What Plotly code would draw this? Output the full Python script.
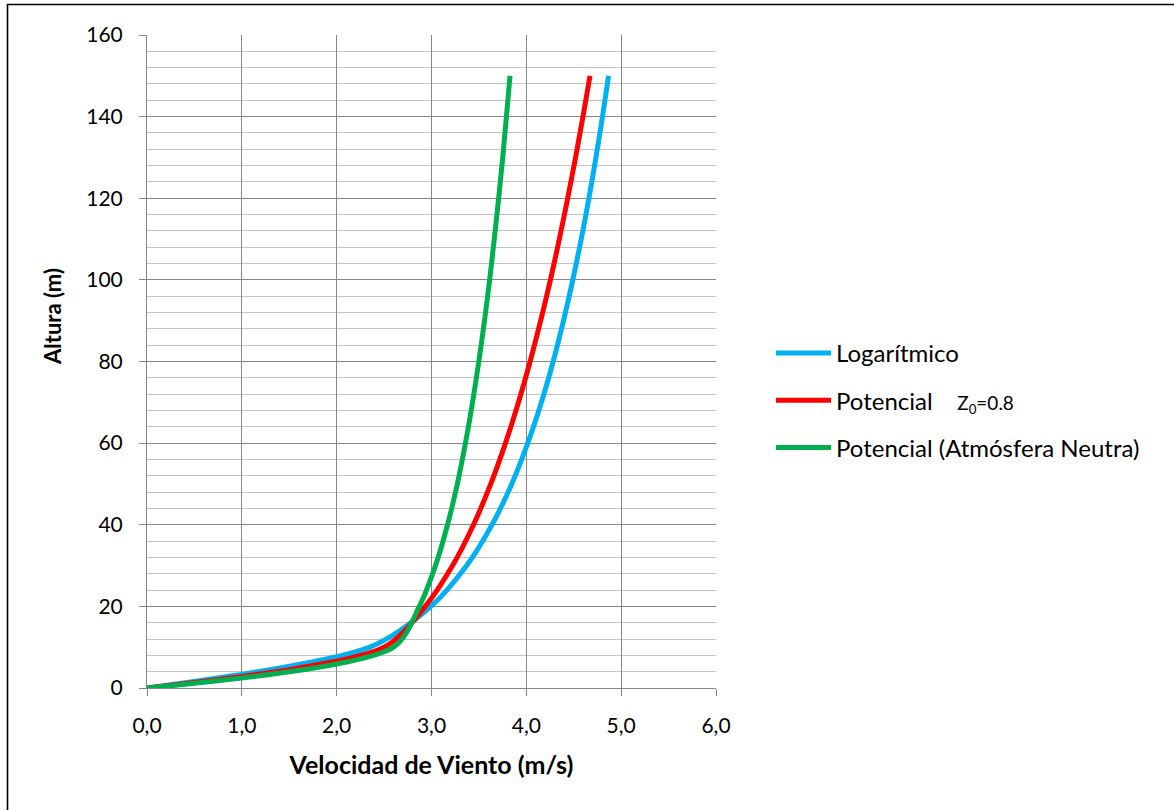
import plotly.graph_objects as go

# Heights (m) at which the wind speed profiles are evaluated
altura = [0, 10, 20, 30, 40, 50, 60, 70, 80, 90, 100, 110, 120, 130, 140, 150]

# Wind speed (m/s) for each profile
v_logaritmico = [0.000, 2.349, 2.994, 3.371, 3.638, 3.846, 4.015, 4.159, 4.283,
                 4.392, 4.490, 4.579, 4.660, 4.734, 4.803, 4.867]
v_potencial = [0.000, 2.500, 2.934, 3.222, 3.443, 3.625, 3.780, 3.917, 4.040,
               4.151, 4.254, 4.348, 4.436, 4.519, 4.597, 4.671]
v_neutra = [0.000, 2.600, 2.871, 3.042, 3.169, 3.272, 3.358, 3.433, 3.499,
            3.559, 3.613, 3.662, 3.708, 3.751, 3.790, 3.828]

nombres = [
    "Logarítmico",
    "Potencial\u00a0\u00a0\u00a0\u00a0<span style='font-size:19px'>Z<sub>0</sub>=0.8</span>",
    "Potencial (Atmósfera Neutra)",
]
colores = ["#00B0F0", "#FF0000", "#00B050"]
series = [v_logaritmico, v_potencial, v_neutra]

FONT = "Lato, 'Open Sans', sans-serif"

fig = go.Figure()
for i, (nombre, color, v) in enumerate(zip(nombres, colores, series)):
    fig.add_trace(go.Scatter(
        x=v, y=altura, name=nombre, mode="lines",
        line=dict(color=color, width=5, shape="spline", smoothing=0.8),
        legendgroup=f"g{i}",
    ))

# Plot-area geometry in pixels
W, H = 1174, 810
L, R, T, B = 147, 716, 35, 688
pw, ph = R - L, B - T

def px_x(p):
    return (p - L) / pw

def px_y(p):
    return (B - p) / ph

fig.update_layout(
    width=W, height=H,
    margin=dict(l=L, r=W - R, t=T, b=H - B, pad=0),
    paper_bgcolor="white", plot_bgcolor="white",
    separators=",.",
    font=dict(family=FONT, size=21, color="black"),
    showlegend=True,
    legend=dict(
        x=px_x(771), y=px_y(331), xanchor="left", yanchor="top",
        font=dict(family=FONT, size=24, color="black"),
        itemwidth=55, tracegroupgap=13,
        bgcolor="rgba(0,0,0,0)",
    ),
    xaxis=dict(
        range=[0, 6], dtick=1, tick0=0, tickformat=".1f",
        showgrid=True, gridcolor="#878787", gridwidth=1,
        showline=True, linecolor="#878787", linewidth=1,
        ticks="outside", ticklen=7, tickcolor="#878787",
        ticklabelstandoff=12,
        zeroline=False,
        title=dict(text="<b>Velocidad de Viento (m/s)</b>", standoff=20,
                   font=dict(family=FONT, size=25)),
    ),
    yaxis=dict(
        range=[0, 160], dtick=20, tick0=0,
        showgrid=True, gridcolor="#878787", gridwidth=1,
        showline=True, linecolor="#878787", linewidth=1,
        ticks="outside", ticklen=7, tickcolor="#878787",
        ticklabelstandoff=12,
        zeroline=False,
        minor=dict(dtick=4, showgrid=True, gridcolor="#c4c4c4", gridwidth=1),
    ),
    annotations=[
        dict(
            text="<b>Altura (m)</b>", textangle=-90,
            xref="paper", yref="paper", x=px_x(52), y=px_y(317),
            xanchor="center", yanchor="middle", showarrow=False,
            font=dict(family=FONT, size=22, color="black"),
        )
    ],
)

# Outer chart frame
fig.add_shape(
    type="rect", xref="paper", yref="paper",
    x0=px_x(7.5), x1=px_x(1190), y0=px_y(830), y1=px_y(4.5),
    line=dict(color="black", width=1.6), fillcolor="rgba(0,0,0,0)",
    layer="below",
)

fig.write_html("out.html")
